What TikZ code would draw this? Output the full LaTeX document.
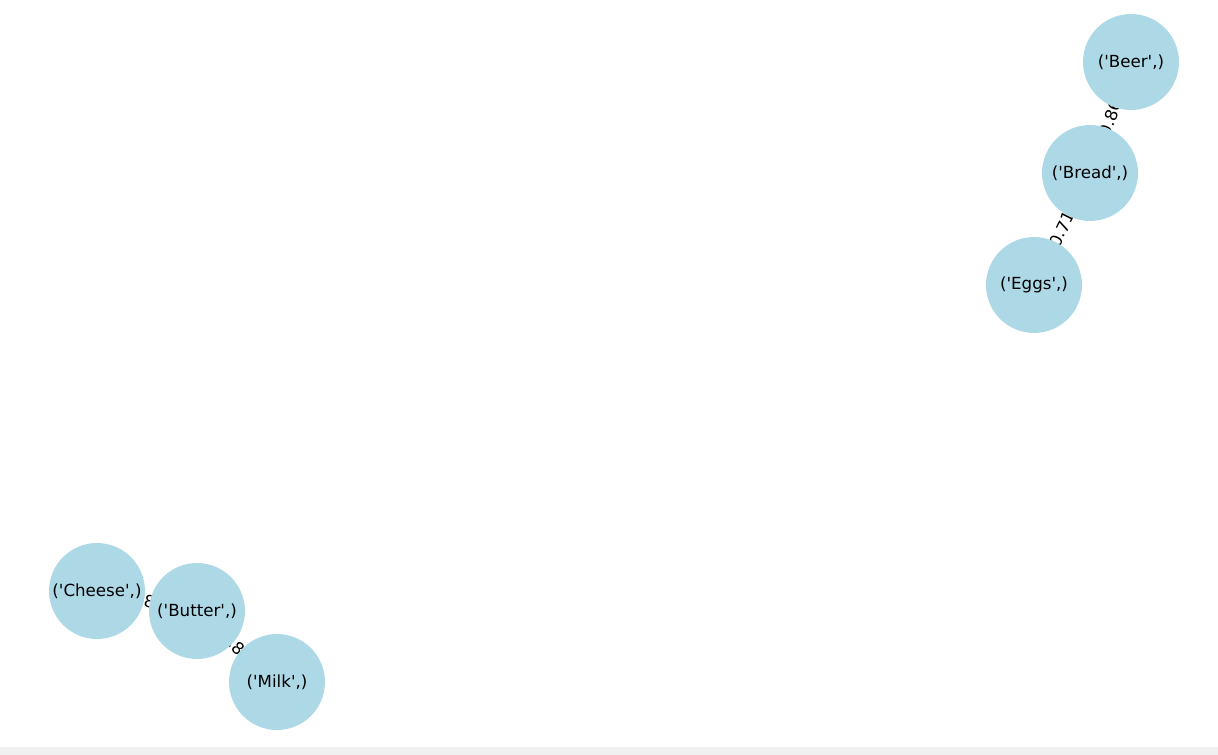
\documentclass[tikz,border=0pt]{standalone}
\usepackage{fontspec}
\newfontfamily\plotfont{DejaVu Sans}
\usepackage{xcolor}
\usetikzlibrary{positioning}
\definecolor{itemblue}{HTML}{ADD8E6}
\definecolor{stripgray}{HTML}{F0F0F0}
\pgfdeclarelayer{background}
\pgfsetlayers{background,main}

\begin{document}
\begin{tikzpicture}[x=0.72pt,y=-0.72pt,font=\plotfont,
  item/.style={circle,fill=itemblue,minimum size=69.1pt,inner sep=0pt,
    font=\plotfont\fontsize{12}{14}\selectfont},
  conf/.style={midway,sloped,fill=white,inner sep=2pt,
    font=\plotfont\fontsize{12}{14}\selectfont}]
\useasboundingbox (0,0) rectangle (1218,755);
\fill[stripgray] (0,747) rectangle (1218,755);
\node[item] (beer) at (1131,62) {('Beer',)};
\node[item] (bread) at (1090,173) {('Bread',)};
\node[item] (eggs) at (1034,285) {('Eggs',)};
\node[item] (cheese) at (97,591) {('Cheese',)};
\node[item] (butter) at (197,611) {('Butter',)};
\node[item] (milk) at (277,682) {('Milk',)};
\begin{pgfonlayer}{background}
\draw[line width=0.72pt] (beer)--node[conf]{0.86}(bread);
\draw[line width=0.72pt] (bread)--node[conf]{0.71}(eggs);
\draw[line width=0.72pt] (cheese)--node[conf]{0.80}(butter);
\draw[line width=0.72pt] (butter)--node[conf]{0.80}(milk);
\end{pgfonlayer}
\end{tikzpicture}
\end{document}
